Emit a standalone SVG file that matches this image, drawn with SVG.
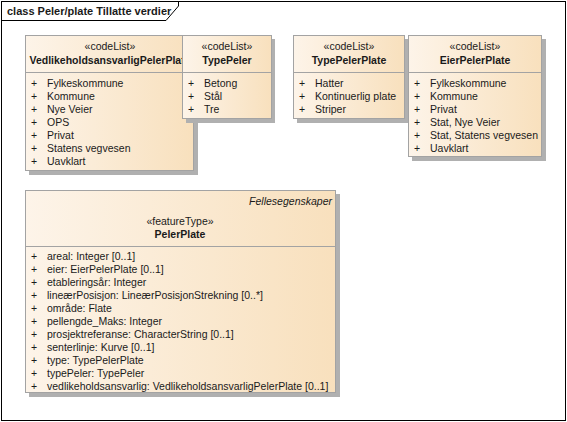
<svg xmlns="http://www.w3.org/2000/svg" width="567" height="422" viewBox="0 0 567 422">
<defs>
<linearGradient id="g" x1="0" y1="0" x2="1" y2="0">
<stop offset="0" stop-color="#fdf4e9"/>
<stop offset="1" stop-color="#f8e0bd"/>
</linearGradient>
</defs>
<style>
text{font-family:"Liberation Sans",Arial,sans-serif;font-size:10.5px;fill:#1a1a1a}
.b{font-weight:bold}
.c{text-anchor:middle}
.i{font-style:italic;text-anchor:end}
.box{fill:url(#g);stroke:#a3a3a3;stroke-width:1}
.sh{fill:#b0b0b0}
.sep{stroke:#a3a3a3;stroke-width:1}
.frame{fill:#fff;stroke:#000;stroke-width:1}
</style>
<rect class="frame" x="1.5" y="1.5" width="564" height="419"/>
<path d="M1.5 20.5 H166 L178.5 6 V1.5" fill="none" stroke="#000"/>
<text x="7" y="15" class="b" style="font-size:11px">class Peler/plate Tillatte verdier</text>

<g id="VedlikeholdsansvarligPelerPlate">
<rect class="sh" x="29" y="39" width="169" height="136"/>
<rect class="box" x="25.5" y="35.5" width="168" height="135"/>
<line class="sep" x1="25.5" y1="72.5" x2="193.5" y2="72.5"/>
<text x="110" y="50" class="c">«codeList»</text>
<text x="110" y="64" class="c b">VedlikeholdsansvarligPelerPlate</text>
<text x="31" y="87">+</text><text x="47" y="87">Fylkeskommune</text>
<text x="31" y="100">+</text><text x="47" y="100">Kommune</text>
<text x="31" y="113">+</text><text x="47" y="113">Nye Veier</text>
<text x="31" y="126">+</text><text x="47" y="126">OPS</text>
<text x="31" y="139">+</text><text x="47" y="139">Privat</text>
<text x="31" y="152">+</text><text x="47" y="152">Statens vegvesen</text>
<text x="31" y="165">+</text><text x="47" y="165">Uavklart</text>
</g>

<g id="TypePeler">
<rect class="sh" x="186" y="39" width="89" height="84"/>
<rect class="box" x="182.5" y="35.5" width="89" height="83"/>
<line class="sep" x1="182.5" y1="72.5" x2="271.5" y2="72.5"/>
<text x="227" y="50" class="c">«codeList»</text>
<text x="227" y="64" class="c b">TypePeler</text>
<text x="188" y="87">+</text><text x="204" y="87">Betong</text>
<text x="188" y="100">+</text><text x="204" y="100">Stål</text>
<text x="188" y="113">+</text><text x="204" y="113">Tre</text>
</g>

<g id="TypePelerPlate">
<rect class="sh" x="297" y="39" width="111" height="84"/>
<rect class="box" x="293.5" y="35.5" width="111" height="83"/>
<line class="sep" x1="293.5" y1="72.5" x2="404.5" y2="72.5"/>
<text x="349" y="50" class="c">«codeList»</text>
<text x="349" y="64" class="c b">TypePelerPlate</text>
<text x="299" y="87">+</text><text x="315" y="87">Hatter</text>
<text x="299" y="100">+</text><text x="315" y="100">Kontinuerlig plate</text>
<text x="299" y="113">+</text><text x="315" y="113">Striper</text>
</g>

<g id="EierPelerPlate">
<rect class="sh" x="412" y="39" width="134" height="122"/>
<rect class="box" x="408.5" y="35.5" width="133" height="121"/>
<line class="sep" x1="408.5" y1="72.5" x2="541.5" y2="72.5"/>
<text x="475" y="50" class="c">«codeList»</text>
<text x="475" y="64" class="c b">EierPelerPlate</text>
<text x="414" y="87">+</text><text x="430" y="87">Fylkeskommune</text>
<text x="414" y="100">+</text><text x="430" y="100">Kommune</text>
<text x="414" y="113">+</text><text x="430" y="113">Privat</text>
<text x="414" y="126">+</text><text x="430" y="126">Stat, Nye Veier</text>
<text x="414" y="139">+</text><text x="430" y="139">Stat, Statens vegvesen</text>
<text x="414" y="152">+</text><text x="430" y="152">Uavklart</text>
</g>

<g id="PelerPlate">
<rect class="sh" x="29" y="194" width="311" height="203"/>
<rect class="box" x="25.5" y="190.5" width="310" height="202"/>
<line class="sep" x1="25.5" y1="246.5" x2="335.5" y2="246.5"/>
<text x="332" y="205" class="i">Fellesegenskaper</text>
<text x="180" y="225" class="c">«featureType»</text>
<text x="180" y="238" class="c b">PelerPlate</text>
<text x="31" y="260">+</text><text x="47" y="260">areal: Integer [0..1]</text>
<text x="31" y="273">+</text><text x="47" y="273">eier: EierPelerPlate [0..1]</text>
<text x="31" y="286">+</text><text x="47" y="286">etableringsår: Integer</text>
<text x="31" y="299">+</text><text x="47" y="299">lineærPosisjon: LineærPosisjonStrekning [0..*]</text>
<text x="31" y="312">+</text><text x="47" y="312">område: Flate</text>
<text x="31" y="325">+</text><text x="47" y="325">pellengde_Maks: Integer</text>
<text x="31" y="338">+</text><text x="47" y="338">prosjektreferanse: CharacterString [0..1]</text>
<text x="31" y="351">+</text><text x="47" y="351">senterlinje: Kurve [0..1]</text>
<text x="31" y="364">+</text><text x="47" y="364">type: TypePelerPlate</text>
<text x="31" y="377">+</text><text x="47" y="377">typePeler: TypePeler</text>
<text x="31" y="390">+</text><text x="47" y="390">vedlikeholdsansvarlig: VedlikeholdsansvarligPelerPlate [0..1]</text>
</g>
<g id="connectors"/>
</svg>
